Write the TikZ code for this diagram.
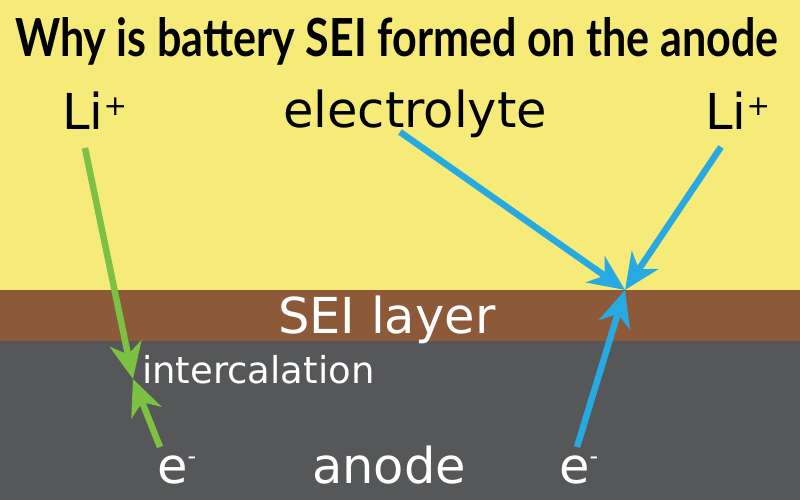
\documentclass[tikz,border=0pt]{standalone}
\usepackage{fontspec}
\setmainfont{DejaVu Sans}
\newfontfamily\titlefont{Lato}
\usetikzlibrary{arrows.meta}
\definecolor{bgyellow}{HTML}{F6EB78}
\definecolor{seibrown}{HTML}{8C5A38}
\definecolor{anodegray}{HTML}{555759}
\definecolor{ligreen}{HTML}{7DC142}
\definecolor{elblue}{HTML}{27A9E1}
\newcommand{\bigtxt}{\fontsize{49.5}{52}\selectfont}
\newcommand{\suptxt}[3]{{\fontsize{#3}{#3}\selectfont\raisebox{#1pt}{#2}}}
\begin{document}
\begin{tikzpicture}[x=1pt,y=-1pt,
  lbl/.style={anchor=base west,inner sep=0pt,font=\bigtxt},
  darklbl/.style={lbl,text=white},
  arrowline/.style={line width=6.5pt,-{Stealth[length=36pt,width=32pt,inset=11pt]}},
  greenarrow/.style={arrowline,draw=ligreen,fill=ligreen},
  bluearrow/.style={arrowline,draw=elblue,fill=elblue}]
\useasboundingbox (0,0) rectangle (800,500);
\fill[bgyellow] (0,0) rectangle (800,290);
\fill[seibrown] (0,290) rectangle (800,341);
\fill[anodegray] (0,341) rectangle (800,500);
% texts
\node[anchor=base west,inner sep=0pt] (title) at (15,57)
  {\resizebox{763pt}{39pt}{\titlefont\bfseries Why is battery SEI formed on the anode}};
\node[lbl] (li1) at (62,130) {Li\suptxt{14}{+}{28}};
\node[lbl] (electrolyte) at (283,128) {electrolyte};
\node[lbl] (li2) at (705,130) {Li\suptxt{14}{+}{28}};
\node[darklbl] (sei) at (278,333) {SEI layer};
\node[darklbl,font=\fontsize{37}{40}\selectfont] (intercal) at (142,383) {intercalation};
\node[darklbl] (e1) at (157,483) {e\suptxt{19}{-}{24}};
\node[darklbl] (anode) at (312,483) {anode};
\node[darklbl] (e2) at (559,483) {e\suptxt{19}{-}{24}};
% connector points
\coordinate (g1s) at (85,148);
\coordinate (g2s) at (160,447);
\coordinate (ic) at (133,379);
\coordinate (b1s) at (400,132);
\coordinate (b2s) at (721,147);
\coordinate (b3s) at (577,447);
\coordinate (sj) at (625,290);
% arrows
\draw[greenarrow] (g1s) -- (ic);
\draw[greenarrow] (g2s) -- (ic);
\draw[bluearrow] (b1s) -- (sj);
\draw[bluearrow] (b2s) -- (sj);
\draw[bluearrow] (b3s) -- (sj);
\end{tikzpicture}
\end{document}
